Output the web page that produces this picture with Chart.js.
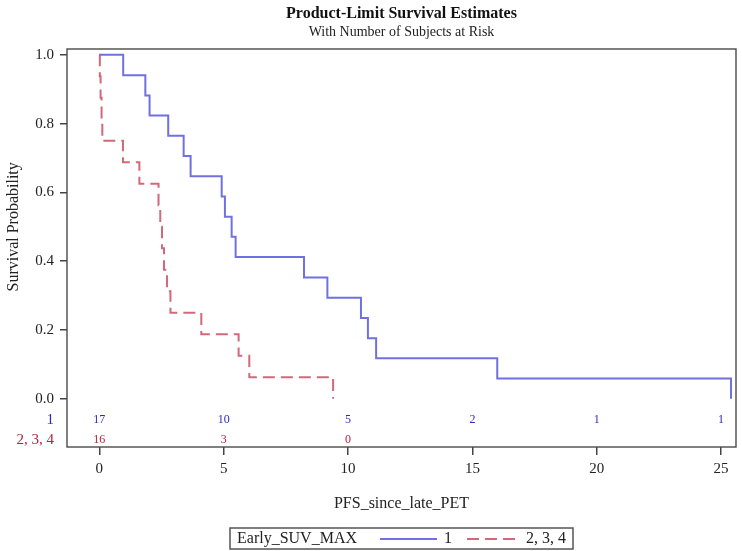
<!DOCTYPE html>
<html>
<head>
<meta charset="utf-8">
<title>Product-Limit Survival Estimates</title>
<script src="https://cdn.jsdelivr.net/npm/chart.js@4.4.1/dist/chart.umd.min.js"></script>
<style>
  body { margin: 0; background: #fff; }
  canvas { display: block; }
</style>
</head>
<body>
<canvas id="km" width="742" height="551"></canvas>
<script>
// Kaplan-Meier steps: time of each drop and survival after it
const group1Times = [0, 0.96, 1.85, 2.02, 2.77, 3.39, 3.67, 4.92, 5.05, 5.32, 5.48, 8.23, 9.17, 10.52, 10.8, 11.13, 16.0, 25.4];
const group1Surv = [1, 0.941, 0.882, 0.824, 0.765, 0.706, 0.647, 0.588, 0.529, 0.471, 0.412, 0.353, 0.294, 0.235, 0.176, 0.118, 0.059, 0];

const group2Times = [0, 0.02, 0.05, 0.09, 0.12, 0.95, 1.61, 2.38, 2.45, 2.52, 2.6, 2.72, 2.86, 4.1, 5.6, 6.03, 9.4];
const group2Surv = [1, 0.9375, 0.875, 0.8125, 0.75, 0.6875, 0.625, 0.5625, 0.5, 0.4375, 0.375, 0.3125, 0.25, 0.1875, 0.125, 0.0625, 0];

// number of subjects at risk
const riskTimes = [0, 5, 10, 15, 20, 25];
const group1AtRisk = [17, 10, 5, 2, 1, 1];
const group2AtRisk = [16, 3, 0];

const xTicks = [0, 5, 10, 15, 20, 25];
const yTicks = [0, 0.2, 0.4, 0.6, 0.8, 1.0];

const serif = '"Liberation Serif", "Times New Roman", serif';
Chart.defaults.font.family = serif;
Chart.defaults.color = "#222";

const toPoints = (xs, ys) => xs.map((x, i) => ({ x: x, y: ys[i] }));

const groups = [
  { label: "1", times: group1Times, surv: group1Surv, atRisk: group1AtRisk,
    color: "#7070e0", textColor: "#2b2bc0", dash: [] },
  { label: "2, 3, 4", times: group2Times, surv: group2Surv, atRisk: group2AtRisk,
    color: "#d2697a", textColor: "#b5223f", dash: [12, 6] },
];

// frame, y title, at-risk table and the inline legend
const kmExtras = {
  id: "kmExtras",
  afterDraw(chart) {
    const ctx = chart.ctx;
    const area = chart.chartArea;
    const xs = chart.scales.x;
    const ys = chart.scales.y;
    ctx.save();

    ctx.strokeStyle = "#4a4a4a";
    ctx.lineWidth = 1.4;
    ctx.strokeRect(area.left, area.top, area.right - area.left, area.bottom - area.top);

    // y axis title centred on 0..1
    ctx.save();
    ctx.translate(14, (ys.getPixelForValue(0) + ys.getPixelForValue(1)) / 2);
    ctx.rotate(-Math.PI / 2);
    ctx.font = "16px " + serif;
    ctx.fillStyle = "#222";
    ctx.textAlign = "center";
    ctx.textBaseline = "middle";
    ctx.fillText("Survival Probability", 0, 0);
    ctx.restore();

    // at-risk rows
    const y0 = ys.getPixelForValue(0);
    groups.forEach((g, row) => {
      const rowY = y0 + 21 + row * 20;
      ctx.fillStyle = g.textColor;
      ctx.textBaseline = "middle";
      ctx.font = "15px " + serif;
      ctx.textAlign = "right";
      ctx.fillText(g.label, area.left - 13, rowY);
      ctx.font = "12px " + serif;
      ctx.textAlign = "center";
      g.atRisk.forEach((n, i) => {
        ctx.fillText(String(n), xs.getPixelForValue(riskTimes[i]), rowY);
      });
    });

    // legend box
    const ds = chart.data.datasets;
    ctx.font = "16px " + serif;
    const titleText = "Early_SUV_MAX";
    const lineLen = [57, 52];
    const parts = [7, ctx.measureText(titleText).width, 23];
    ds.forEach((d, i) => {
      parts.push(lineLen[i], 7, ctx.measureText(d.label).width, i < ds.length - 1 ? 15 : 7);
    });
    const boxW = parts.reduce((a, b) => a + b, 0);
    const boxH = 21;
    const boxX = (area.left + area.right) / 2 - boxW / 2;
    const boxY = 528;
    ctx.strokeStyle = "#555";
    ctx.lineWidth = 1.5;
    ctx.strokeRect(boxX, boxY, boxW, boxH);
    const midY = boxY + boxH / 2 + 0.5;
    let cx = boxX + 7;
    ctx.fillStyle = "#222";
    ctx.textAlign = "left";
    ctx.textBaseline = "middle";
    ctx.fillText(titleText, cx, midY);
    cx += parts[1] + 23;
    ds.forEach((d, i) => {
      ctx.beginPath();
      ctx.setLineDash(d.borderDash || []);
      ctx.strokeStyle = d.borderColor;
      ctx.lineWidth = 2;
      ctx.moveTo(cx, midY);
      ctx.lineTo(cx + lineLen[i], midY);
      ctx.stroke();
      ctx.setLineDash([]);
      cx += lineLen[i] + 7;
      ctx.fillStyle = "#222";
      ctx.fillText(d.label, cx, midY);
      cx += ctx.measureText(d.label).width + 15;
    });

    ctx.restore();
  },
};

new Chart(document.getElementById("km"), {
  type: "line",
  data: {
    datasets: groups.map((g) => ({
      label: g.label,
      data: toPoints(g.times, g.surv),
      borderColor: g.color,
      borderWidth: 2,
      borderDash: g.dash,
      stepped: "before",
      pointRadius: 0,
      fill: false,
    })),
  },
  options: {
    responsive: false,
    animation: false,
    devicePixelRatio: 1,
    layout: { padding: { left: 0, right: 6, top: 0, bottom: 0 } },
    plugins: {
      legend: { display: false },
      tooltip: { enabled: false },
      title: {
        display: true,
        fullSize: false,
        text: "Product-Limit Survival Estimates",
        font: { size: 16, weight: "bold" },
        color: "#111",
        padding: { top: 4, bottom: 1 },
      },
      subtitle: {
        display: true,
        fullSize: false,
        text: "With Number of Subjects at Risk",
        font: { size: 14 },
        color: "#222",
        padding: { top: 0, bottom: 8 },
      },
    },
    scales: {
      x: {
        type: "linear",
        min: -1.3,
        max: 25.6,
        afterFit(scale) { scale.height = 104; },
        afterBuildTicks(scale) { scale.ticks = xTicks.map((v) => ({ value: v })); },
        grid: { drawOnChartArea: false, drawTicks: true, tickLength: 8, color: "#444", lineWidth: 1.5 },
        border: { display: false },
        ticks: { font: { size: 15 }, color: "#222", padding: 5 },
        title: {
          display: true,
          text: "PFS_since_late_PET",
          font: { size: 16 },
          color: "#222",
          padding: { top: 0, bottom: 38 },
        },
      },
      y: {
        type: "linear",
        min: -0.14,
        max: 1.017,
        afterFit(scale) { scale.width = 67; },
        afterBuildTicks(scale) { scale.ticks = yTicks.map((v) => ({ value: v })); },
        grid: { drawOnChartArea: false, drawTicks: true, tickLength: 7, color: "#444", lineWidth: 1.5 },
        border: { display: false },
        ticks: {
          font: { size: 15 },
          color: "#222",
          padding: 6,
          callback: (v) => Number(v).toFixed(1),
        },
        title: { display: false },
      },
    },
  },
  plugins: [kmExtras],
});
</script>
</body>
</html>
